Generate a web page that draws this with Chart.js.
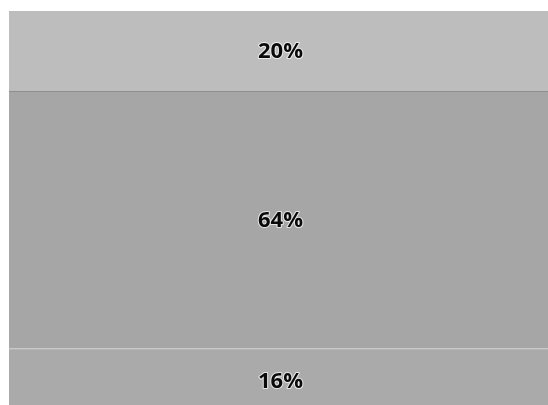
<!DOCTYPE html>
<html>
<head>
<meta charset="utf-8">
<script src="https://cdn.jsdelivr.net/npm/chart.js@4.4.1/dist/chart.umd.min.js"></script>
<style>
  html, body { margin: 0; padding: 0; background: #ffffff; }
  #wrap { width: 548px; height: 405px; overflow: hidden; position: relative; }
  canvas { display: block; }
</style>
</head>
<body>
<div id="wrap"><canvas id="c" width="548" height="413"></canvas></div>
<script>
// One column, split into three shares that add up to 100%
const categories = [''];
const bottomShare = [16];
const middleShare = [64];
const topShare = [20];
const seriesNames = ['Bottom', 'Middle', 'Top'];

// Writes each segment's share in its middle
const segmentLabels = {
  id: 'segmentLabels',
  afterDatasetsDraw(chart) {
    const ctx = chart.ctx;
    ctx.save();
    ctx.font = 'bold 22px "Open Sans", Lato, sans-serif';
    ctx.textAlign = 'center';
    ctx.textBaseline = 'middle';
    ctx.lineJoin = 'round';
    chart.data.datasets.forEach((ds, i) => {
      const meta = chart.getDatasetMeta(i);
      meta.data.forEach((bar, j) => {
        const text = ds.data[j] + '%';
        const x = bar.x + 2;
        const y = (bar.y + bar.base) / 2 + 1;
        ctx.lineWidth = 2;
        ctx.strokeStyle = 'rgba(255,255,255,0.7)';
        ctx.strokeText(text, x, y);
        ctx.fillStyle = '#0a0a0a';
        ctx.fillText(text, x, y);
      });
    });
    ctx.restore();
  }
};

new Chart(document.getElementById('c'), {
  type: 'bar',
  data: {
    labels: categories,
    datasets: [
      {
        label: seriesNames[0],
        data: bottomShare,
        backgroundColor: '#aaaaaa',
        borderColor: '#d4d4d4',
        borderWidth: { top: 1, left: 0, right: 0, bottom: 0 },
        borderSkipped: 'start'
      },
      {
        label: seriesNames[1],
        data: middleShare,
        backgroundColor: '#a6a6a6',
        borderColor: '#8e8e8e',
        borderWidth: { top: 1, left: 0, right: 0, bottom: 0 },
        borderSkipped: 'start'
      },
      {
        label: seriesNames[2],
        data: topShare,
        backgroundColor: '#bdbdbd',
        borderWidth: 0
      }
    ]
  },
  options: {
    responsive: false,
    animation: false,
    devicePixelRatio: 1,
    layout: { padding: { left: 9, top: 11, right: 0, bottom: 0 } },
    datasets: { bar: { barPercentage: 1, categoryPercentage: 1 } },
    scales: {
      x: { stacked: true, display: false },
      y: { stacked: true, display: false, min: 0, max: 100 }
    },
    plugins: {
      legend: { display: false },
      tooltip: { enabled: false }
    }
  },
  plugins: [segmentLabels]
});
</script>
</body>
</html>
